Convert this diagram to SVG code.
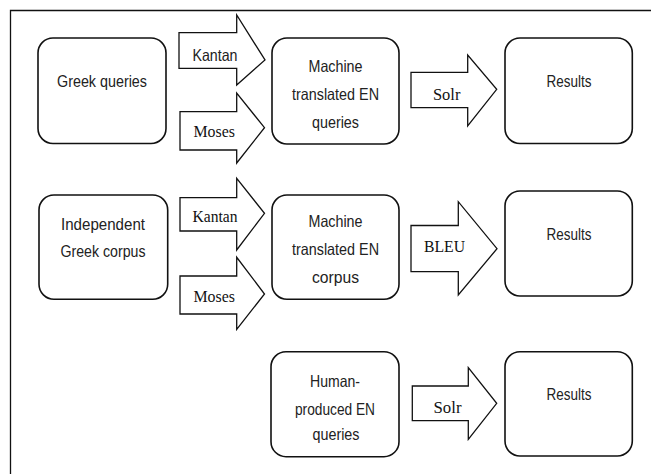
<svg xmlns="http://www.w3.org/2000/svg" width="651" height="474" viewBox="0 0 651 474">
<style>
.box{fill:#fff;stroke:#111;stroke-width:1.6}
.arr{fill:#fff;stroke:#111;stroke-width:1.3;stroke-linejoin:miter}
.t{font-family:"Liberation Sans",Arial,sans-serif;font-size:16.5px;fill:#222;text-anchor:middle}
.s{font-family:"Liberation Serif","Times New Roman",serif;font-size:17.5px;fill:#111;text-anchor:middle}
</style>
<rect width="651" height="474" fill="#fff"/>
<path d="M10.5 474 V10.5 H651" fill="none" stroke="#111" stroke-width="1.3"/>
<g id="connectors">
<g id="a-kantan1"><polygon class="arr" points="179,32.7 236.7,32.7 236.7,15 265,60 236.7,85 236.7,68.3 179,68.3"/><text class="t" x="215" y="60.5" textLength="45" lengthAdjust="spacingAndGlyphs">Kantan</text></g>
<g id="a-moses1"><polygon class="arr" points="180,111.7 236.7,111.7 236.7,93 264.5,127.7 236.7,163 236.7,150 180,150"/><text class="s" x="214.2" y="136.7" textLength="41.5" lengthAdjust="spacingAndGlyphs">Moses</text></g>
<g id="a-kantan2"><polygon class="arr" points="180,197.7 236.7,197.7 236.7,178.3 264.5,213.3 236.7,250 236.7,231 180,231"/><text class="s" x="215" y="221.7" textLength="45" lengthAdjust="spacingAndGlyphs">Kantan</text></g>
<g id="a-moses2"><polygon class="arr" points="180,276 236.7,276 236.7,257.3 264.5,294 236.7,329.3 236.7,314 180,314"/><text class="s" x="214.2" y="301.7" textLength="41.5" lengthAdjust="spacingAndGlyphs">Moses</text></g>
<g id="a-solr1"><polygon class="arr" points="411,72.3 467.7,72.3 467.7,55 496.7,89.3 467.7,126 467.7,107.7 411,107.7"/><text class="s" x="446.7" y="99.5" textLength="27.5" lengthAdjust="spacingAndGlyphs">Solr</text></g>
<g id="a-bleu"><polygon class="arr" points="411,225.5 458.3,225.5 458.3,201.7 497,248.7 458.3,295 458.3,271.7 411,271.7"/><text class="s" x="444.5" y="251.7" textLength="41" lengthAdjust="spacingAndGlyphs">BLEU</text></g>
<g id="a-solr3"><polygon class="arr" points="412.3,386 468.3,386 468.3,367.7 496.7,403.3 468.3,439.3 468.3,420.7 412.3,420.7"/><text class="s" x="447.5" y="413.3" textLength="28" lengthAdjust="spacingAndGlyphs">Solr</text></g>
</g>
<g id="n-greek-queries"><rect class="box" x="38" y="38" width="128" height="105.5" rx="15"/><text class="t" x="102" y="87" textLength="90" lengthAdjust="spacingAndGlyphs">Greek queries</text></g>
<g id="n-mt-queries"><rect class="box" x="272" y="38" width="127" height="106" rx="15"/><text class="t" x="335.5" y="71.7" textLength="54" lengthAdjust="spacingAndGlyphs">Machine</text><text class="t" x="335.5" y="100" textLength="87" lengthAdjust="spacingAndGlyphs">translated EN</text><text class="t" x="335.5" y="127.7" textLength="47" lengthAdjust="spacingAndGlyphs">queries</text></g>
<g id="n-results1"><rect class="box" x="505" y="38" width="127.3" height="105.5" rx="15"/><text class="t" x="569" y="87.3" textLength="45" lengthAdjust="spacingAndGlyphs">Results</text></g>
<g id="n-greek-corpus"><rect class="box" x="39" y="195" width="128.7" height="104.3" rx="15"/><text class="t" x="103" y="230" textLength="84" lengthAdjust="spacingAndGlyphs">Independent</text><text class="t" x="103" y="257.3" textLength="85" lengthAdjust="spacingAndGlyphs">Greek corpus</text></g>
<g id="n-mt-corpus"><rect class="box" x="272" y="195" width="127" height="104.3" rx="15"/><text class="t" x="335.5" y="226.7" textLength="54" lengthAdjust="spacingAndGlyphs">Machine</text><text class="t" x="335.5" y="255" textLength="87" lengthAdjust="spacingAndGlyphs">translated EN</text><text class="t" x="335.5" y="283.3" textLength="47" lengthAdjust="spacingAndGlyphs">corpus</text></g>
<g id="n-results2"><rect class="box" x="505" y="191" width="127.3" height="105" rx="15"/><text class="t" x="569" y="240" textLength="45" lengthAdjust="spacingAndGlyphs">Results</text></g>
<g id="n-human-queries"><rect class="box" x="271" y="351.7" width="128" height="105" rx="15"/><text class="t" x="335" y="386.5" textLength="50" lengthAdjust="spacingAndGlyphs">Human-</text><text class="t" x="335" y="414.5" textLength="80" lengthAdjust="spacingAndGlyphs">produced EN</text><text class="t" x="336" y="440" textLength="47" lengthAdjust="spacingAndGlyphs">queries</text></g>
<g id="n-results3"><rect class="box" x="505" y="351.7" width="127.3" height="104.3" rx="15"/><text class="t" x="569" y="400" textLength="45" lengthAdjust="spacingAndGlyphs">Results</text></g>
</svg>
